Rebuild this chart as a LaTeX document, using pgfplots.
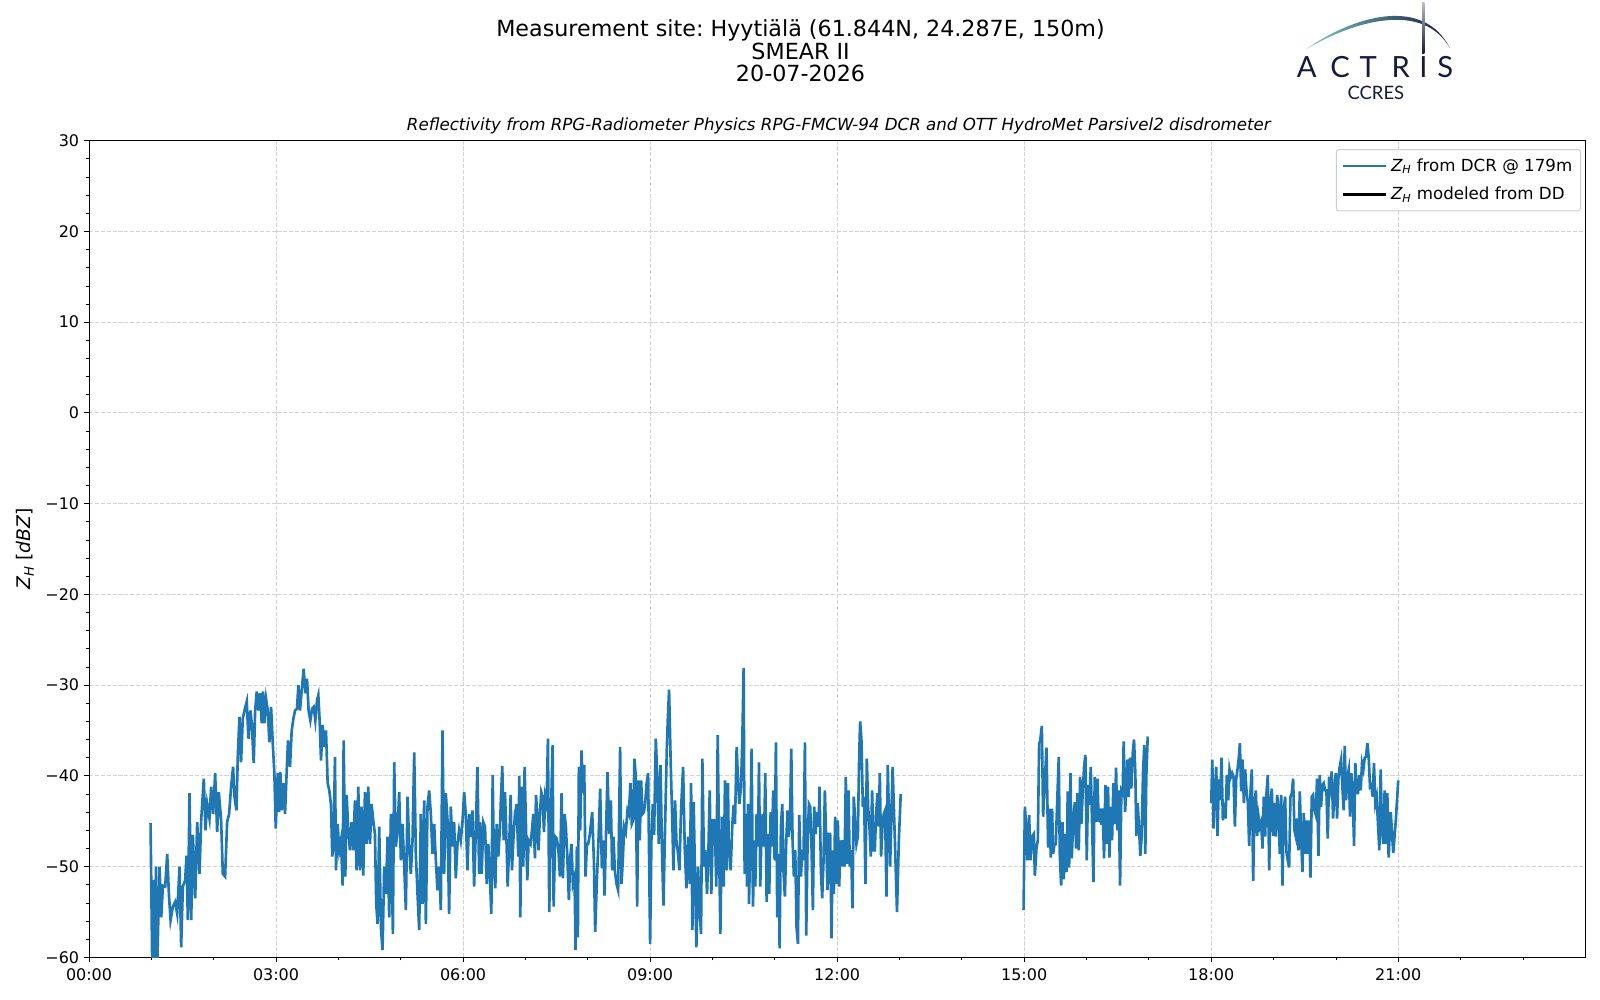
\documentclass[border=0pt]{standalone}
\usepackage{fontspec}
\setmainfont{DejaVu Sans}
\newfontfamily\logofont{Lato}
\usepackage{pgfplots}
\pgfplotsset{compat=1.18}
\definecolor{mplblue}{HTML}{1F77B4}
\definecolor{gridgray}{HTML}{D3D3D3}
\definecolor{legframe}{HTML}{CCCCCC}
\definecolor{navy}{HTML}{161A3C}
\definecolor{tealA}{HTML}{7CCACA}
\definecolor{tealB}{HTML}{2B8A98}
\newcommand{\ZH}{{\itshape Z}\textsubscript{\itshape H}}
\frenchspacing
\begin{document}
\begin{tikzpicture}
\useasboundingbox (0,0) rectangle (1152pt,720pt);
% titles
\node[anchor=base,font=\fontsize{16}{16}\selectfont] at (576.4pt,693.6pt) {Measurement site: Hyytiälä (61.844N, 24.287E, 150m)};
\node[anchor=base,font=\fontsize{16}{16}\selectfont] at (576.4pt,677.3pt) {SMEAR II};
\node[anchor=base,font=\fontsize{16}{16}\selectfont] at (576.4pt,661.2pt) {20-07-2026};
\node[anchor=base,font=\itshape\fontsize{12}{13}\selectfont] at (604pt,626.1pt) {Reflectivity from RPG-Radiometer Physics RPG-FMCW-94 DCR and OTT HydroMet Parsivel2 disdrometer};
% logo
\shade[left color=tealA, middle color=tealB, right color=navy]
  (940.3pt,684.5pt) .. controls (975pt,709pt) and (1025pt,723pt) .. (1044pt,685.2pt)
  .. controls (1025pt,719.2pt) and (975pt,705.2pt) .. (940.3pt,684.5pt) -- cycle;
\shade[top color=navy!30, bottom color=navy] (1024.0pt,681.6pt) rectangle (1025.6pt,718pt);
\foreach \lx/\lt in {940.8/A,964.8/C,985.2/T,1008.5/R,1024.8/I,1040.6/S}{
  \node[anchor=base,inner sep=0pt,text=navy,font=\logofont\fontsize{21}{21}\selectfont] at (\lx pt,664.3pt) {\lt};
}
\node[anchor=base,inner sep=0pt,text=navy,font=\logofont\fontsize{13.3}{14}\selectfont] at (990.6pt,648.4pt) {CCRES};
\begin{axis}[
  at={(64.1pt,30.7pt)}, anchor=south west,
  scale only axis, width=1077.3pt, height=588pt,
  xmin=0, xmax=24, ymin=-60, ymax=30,
  xtick={0,3,6,9,12,15,18,21},
  xticklabels={00:00,03:00,06:00,09:00,12:00,15:00,18:00,21:00},
  minor xtick={1,2,4,5,7,8,10,11,13,14,16,17,19,20,22,23},
  ytick={-60,-50,-40,-30,-20,-10,0,10,20,30},
  yticklabels={−60,−50,−40,−30,−20,−10,0,10,20,30},
  minor ytick={-58,-56,-54,-52,-48,-46,-44,-42,-38,-36,-34,-32,-28,-26,-24,-22,-18,-16,-14,-12,-8,-6,-4,-2,2,4,6,8,12,14,16,18,22,24,26,28},
  tick align=outside, xtick pos=bottom, ytick pos=left,
  major tick length=3.6pt, minor tick length=2.2pt,
  every tick/.style={black, line width=0.7pt},
  minor tick style={line width=0.55pt},
  axis line style={line width=0.75pt},
  tick label style={font=\fontsize{11.5}{13}\selectfont},
  xticklabel style={yshift=-1pt},
  xmajorgrids, ymajorgrids,
  major grid style={gridgray, line width=0.7pt, dash pattern=on 2.96pt off 1.28pt},
  ylabel={\ZH{} [{\itshape dBZ}]},
  ylabel style={at={(axis description cs:-0.0427,0.5)}, anchor=center, font=\fontsize{13.5}{15}\selectfont},
  legend style={at={(axis description cs:1,1)}, anchor=north east, xshift=-3pt, yshift=-6pt,
    draw=legframe, line width=0.7pt, rounded corners=2pt, fill=white,
    font=\fontsize{12}{13}\selectfont, inner xsep=3.5pt, inner ysep=4pt, row sep=5pt,
    nodes={inner sep=2.5pt}},
  legend cell align=left,
  legend image code/.code={\draw[#1] (0pt,0pt) -- (26.5pt,0pt); \path (-0.5pt,0pt) -- (31pt,0pt);},
]
\addplot[mplblue, line width=1.9pt, forget plot] table {
0.987 -45.2
1.014 -61.0
1.041 -51.5
1.058 -62.0
1.073 -50.0
1.094 -61.0
1.131 -50.0
1.158 -55.6
1.185 -52.1
1.222 -52.2
1.254 -48.6
1.281 -53.0
1.308 -55.9
1.345 -54.4
1.382 -53.9
1.414 -55.2
1.452 -50.0
1.478 -58.9
1.505 -52.2
1.542 -51.5
1.564 -48.8
1.585 -55.9
1.612 -41.9
1.639 -55.9
1.665 -46.5
1.703 -53.5
1.735 -45.1
1.772 -50.8
1.799 -44.9
1.841 -40.3
1.868 -46.0
1.895 -43.1
1.932 -44.7
1.959 -41.2
1.991 -44.2
2.023 -39.7
2.055 -46.2
2.082 -41.8
2.119 -44.9
2.146 -50.8
2.183 -51.1
2.215 -45.1
2.247 -44.2
2.279 -41.2
2.311 -39.0
2.333 -42.3
2.365 -43.8
2.386 -37.9
2.413 -33.5
2.439 -38.5
2.466 -33.7
2.493 -32.8
2.530 -31.8
2.557 -35.9
2.589 -32.8
2.610 -34.2
2.642 -38.6
2.664 -32.9
2.690 -30.7
2.717 -32.8
2.744 -30.9
2.770 -34.2
2.792 -30.7
2.813 -34.2
2.840 -31.5
2.867 -32.8
2.893 -36.3
2.920 -32.4
2.947 -36.4
2.973 -39.7
2.995 -45.8
3.027 -39.7
3.048 -44.0
3.069 -39.6
3.091 -43.8
3.123 -40.8
3.144 -44.2
3.171 -39.4
3.192 -36.1
3.224 -39.0
3.251 -35.0
3.278 -33.7
3.304 -32.8
3.336 -32.6
3.358 -30.0
3.384 -32.8
3.411 -30.6
3.443 -28.2
3.470 -30.9
3.497 -29.3
3.523 -32.9
3.550 -33.9
3.577 -32.6
3.603 -32.4
3.630 -33.9
3.657 -31.7
3.678 -31.1
3.699 -33.9
3.721 -38.3
3.747 -34.4
3.774 -36.8
3.801 -35.0
3.828 -40.8
3.854 -41.6
3.881 -43.2
3.902 -48.9
3.924 -46.7
3.945 -37.9
3.961 -50.4
3.988 -45.3
4.014 -48.2
4.041 -47.1
4.068 -52.1
4.084 -36.1
4.111 -51.1
4.132 -42.1
4.159 -46.0
4.185 -48.2
4.212 -45.1
4.239 -48.2
4.265 -42.7
4.292 -50.4
4.319 -41.2
4.345 -50.4
4.372 -43.4
4.399 -51.0
4.426 -41.8
4.452 -47.5
4.479 -41.2
4.506 -47.5
4.532 -43.1
4.559 -44.9
4.586 -46.4
4.607 -54.1
4.628 -56.3
4.655 -45.6
4.682 -56.7
4.708 -59.2
4.735 -50.0
4.762 -53.0
4.789 -46.7
4.815 -55.6
4.842 -44.2
4.874 -57.4
4.895 -38.5
4.922 -47.8
4.949 -46.0
4.975 -41.8
5.002 -49.3
5.029 -45.3
5.056 -50.0
5.082 -54.8
5.109 -42.3
5.136 -47.8
5.162 -50.8
5.189 -47.1
5.216 -37.4
5.242 -48.6
5.269 -53.0
5.296 -57.0
5.322 -44.2
5.349 -54.1
5.376 -42.7
5.403 -56.3
5.429 -43.4
5.456 -41.6
5.483 -44.2
5.509 -48.6
5.536 -45.3
5.563 -49.3
5.589 -52.6
5.616 -50.0
5.643 -54.8
5.670 -35.0
5.696 -50.8
5.723 -41.9
5.750 -44.9
5.776 -55.2
5.803 -43.4
5.830 -47.8
5.856 -45.1
5.883 -51.3
5.910 -47.5
5.936 -46.0
5.963 -47.1
5.990 -45.1
6.017 -41.8
6.043 -44.2
6.070 -50.4
6.097 -44.2
6.123 -46.7
6.150 -43.8
6.177 -52.2
6.203 -46.4
6.230 -39.0
6.257 -50.8
6.272 -45.1
6.298 -50.8
6.325 -45.1
6.352 -45.6
6.379 -51.9
6.405 -47.5
6.432 -51.5
6.453 -55.2
6.475 -39.9
6.496 -50.4
6.517 -52.4
6.539 -45.3
6.565 -48.9
6.592 -45.6
6.608 -42.3
6.629 -38.9
6.651 -47.1
6.672 -41.8
6.699 -47.8
6.715 -52.2
6.742 -47.1
6.763 -42.1
6.784 -50.4
6.806 -47.1
6.832 -44.2
6.859 -43.1
6.886 -48.9
6.902 -40.0
6.918 -55.6
6.939 -41.2
6.966 -50.0
6.987 -39.0
7.009 -45.6
7.030 -51.5
7.051 -47.1
7.083 -47.5
7.105 -46.0
7.126 -44.2
7.153 -49.1
7.169 -42.1
7.190 -44.2
7.211 -48.2
7.233 -44.2
7.254 -41.8
7.275 -42.3
7.297 -46.2
7.318 -42.3
7.340 -43.1
7.361 -35.9
7.382 -55.0
7.409 -44.2
7.436 -36.6
7.452 -54.4
7.478 -46.7
7.500 -46.9
7.526 -47.8
7.553 -51.1
7.580 -41.9
7.601 -51.3
7.628 -44.2
7.649 -45.6
7.671 -48.8
7.697 -53.7
7.719 -48.9
7.740 -47.5
7.761 -51.9
7.788 -51.1
7.804 -59.2
7.825 -47.8
7.841 -57.8
7.857 -39.0
7.879 -46.0
7.900 -37.2
7.922 -41.9
7.943 -38.8
7.964 -51.1
7.986 -47.5
8.007 -47.5
8.034 -46.4
8.071 -44.0
8.098 -49.3
8.119 -57.2
8.146 -51.5
8.172 -47.1
8.199 -41.4
8.226 -50.2
8.247 -47.1
8.269 -53.2
8.295 -45.6
8.317 -39.6
8.343 -46.4
8.370 -42.7
8.391 -50.4
8.413 -46.7
8.434 -50.4
8.461 -51.9
8.487 -52.6
8.519 -36.8
8.541 -51.9
8.562 -49.3
8.584 -45.6
8.610 -46.2
8.637 -43.8
8.658 -44.2
8.685 -40.8
8.706 -45.3
8.728 -44.9
8.749 -38.1
8.770 -40.1
8.792 -54.4
8.813 -40.5
8.834 -47.1
8.856 -40.5
8.877 -44.2
8.899 -44.0
8.920 -43.1
8.941 -41.0
8.968 -39.7
9.000 -58.5
9.021 -47.1
9.043 -43.1
9.064 -46.5
9.091 -35.9
9.112 -39.7
9.139 -47.5
9.166 -38.8
9.192 -48.6
9.214 -54.3
9.240 -45.6
9.267 -37.2
9.283 -33.9
9.304 -30.5
9.331 -38.8
9.358 -45.6
9.374 -50.4
9.400 -42.7
9.422 -47.1
9.448 -48.6
9.470 -50.4
9.497 -43.6
9.529 -39.0
9.555 -47.8
9.582 -52.4
9.609 -46.7
9.635 -51.9
9.657 -40.8
9.678 -57.0
9.699 -42.9
9.721 -51.5
9.742 -58.9
9.769 -50.0
9.796 -55.2
9.817 -57.4
9.838 -38.1
9.865 -50.0
9.886 -48.2
9.913 -53.0
9.934 -48.6
9.956 -41.6
9.982 -53.0
10.009 -44.9
10.036 -44.9
10.062 -52.2
10.084 -35.5
10.105 -47.1
10.127 -57.4
10.153 -44.5
10.180 -52.2
10.201 -40.5
10.228 -50.4
10.249 -40.8
10.260 -47.1
10.292 -50.4
10.319 -45.3
10.340 -43.2
10.361 -45.3
10.388 -36.8
10.410 -40.5
10.431 -43.1
10.458 -41.2
10.479 -36.1
10.500 -28.1
10.516 -50.8
10.538 -44.2
10.554 -52.2
10.570 -43.1
10.586 -54.1
10.607 -47.1
10.628 -37.0
10.650 -54.4
10.671 -47.1
10.687 -52.2
10.708 -44.2
10.730 -47.8
10.746 -38.5
10.767 -52.2
10.783 -47.1
10.805 -44.2
10.826 -47.8
10.847 -39.7
10.869 -53.9
10.890 -46.4
10.911 -53.0
10.933 -44.0
10.954 -47.8
10.975 -41.6
10.997 -49.3
11.018 -36.3
11.039 -55.6
11.061 -48.6
11.077 -59.0
11.098 -45.6
11.120 -43.1
11.141 -50.8
11.162 -53.3
11.184 -47.1
11.205 -43.8
11.221 -46.7
11.242 -45.6
11.264 -37.0
11.285 -47.1
11.306 -51.1
11.328 -48.2
11.349 -56.7
11.371 -58.5
11.392 -44.3
11.419 -51.1
11.440 -48.2
11.461 -49.3
11.483 -36.3
11.504 -57.6
11.525 -47.8
11.547 -43.1
11.568 -43.4
11.589 -47.8
11.611 -54.8
11.632 -43.4
11.654 -46.4
11.675 -44.0
11.702 -45.6
11.718 -41.2
11.739 -50.4
11.760 -53.5
11.782 -49.3
11.803 -41.6
11.824 -47.1
11.846 -52.6
11.867 -46.4
11.888 -46.4
11.910 -57.9
11.926 -48.2
11.947 -53.0
11.968 -44.5
11.990 -51.9
12.011 -44.9
12.033 -52.2
12.054 -47.1
12.075 -50.0
12.097 -47.1
12.118 -50.0
12.139 -40.1
12.161 -49.7
12.182 -41.6
12.203 -50.0
12.225 -48.2
12.246 -54.6
12.267 -42.3
12.289 -44.9
12.310 -47.5
12.332 -46.7
12.353 -37.9
12.369 -34.0
12.390 -36.1
12.412 -43.4
12.433 -42.3
12.454 -51.9
12.476 -38.1
12.497 -43.4
12.518 -45.6
12.540 -48.9
12.561 -41.6
12.583 -48.2
12.604 -48.2
12.625 -44.2
12.647 -41.9
12.668 -45.6
12.684 -39.7
12.705 -48.9
12.727 -45.6
12.748 -44.2
12.769 -43.8
12.791 -53.3
12.812 -38.8
12.850 -50.0
12.890 -39.0
12.930 -48.0
12.960 -55.0
12.990 -47.0
13.020 -42.0
};
\addplot[mplblue, line width=1.9pt, forget plot] table {
14.990 -54.8
15.011 -43.4
15.037 -46.0
15.053 -49.3
15.080 -44.3
15.101 -49.3
15.128 -46.7
15.155 -46.4
15.171 -51.0
15.198 -47.9
15.219 -47.1
15.240 -36.4
15.256 -36.2
15.283 -34.5
15.304 -44.5
15.326 -41.2
15.358 -36.9
15.384 -47.9
15.406 -43.6
15.427 -49.0
15.448 -43.6
15.464 -48.6
15.486 -47.5
15.507 -47.5
15.529 -43.0
15.555 -37.9
15.571 -48.6
15.593 -52.1
15.614 -45.1
15.635 -51.4
15.657 -46.4
15.678 -50.6
15.699 -41.7
15.721 -50.1
15.742 -39.7
15.763 -49.1
15.785 -45.3
15.812 -42.9
15.833 -48.0
15.854 -41.9
15.876 -48.2
15.897 -40.1
15.918 -45.3
15.940 -41.6
15.961 -39.0
15.982 -37.7
16.004 -49.3
16.025 -41.0
16.046 -43.2
16.068 -39.0
16.089 -45.3
16.111 -51.7
16.132 -40.1
16.153 -45.1
16.175 -40.3
16.196 -45.1
16.217 -43.6
16.239 -45.4
16.260 -43.6
16.281 -49.1
16.303 -41.0
16.324 -47.5
16.345 -41.2
16.367 -49.0
16.388 -43.4
16.410 -47.1
16.431 -40.8
16.452 -45.3
16.474 -39.1
16.495 -46.0
16.516 -41.6
16.538 -52.1
16.559 -41.6
16.580 -41.9
16.596 -36.2
16.618 -44.0
16.639 -41.6
16.655 -38.2
16.676 -42.3
16.698 -38.0
16.719 -41.4
16.741 -37.5
16.762 -36.0
16.783 -39.7
16.799 -46.6
16.821 -43.0
16.842 -45.6
16.863 -48.8
16.885 -46.7
16.906 -39.7
16.927 -36.6
16.943 -48.6
16.959 -40.1
16.981 -35.8
16.997 -35.8
};
\addplot[mplblue, line width=1.9pt, forget plot] table {
18.001 -43.0
18.017 -38.2
18.038 -45.8
18.059 -41.6
18.081 -39.0
18.102 -46.6
18.123 -40.4
18.145 -42.7
18.166 -38.0
18.187 -44.9
18.209 -43.0
18.230 -44.7
18.251 -39.9
18.273 -42.7
18.294 -39.3
18.316 -40.1
18.337 -39.7
18.358 -40.1
18.380 -45.6
18.401 -40.3
18.422 -39.3
18.444 -37.9
18.460 -36.4
18.481 -41.7
18.502 -38.2
18.524 -43.0
18.545 -39.3
18.566 -41.6
18.588 -43.0
18.609 -47.7
18.631 -41.6
18.652 -39.3
18.673 -51.6
18.695 -43.0
18.716 -41.6
18.737 -46.6
18.759 -44.5
18.780 -45.6
18.801 -45.1
18.823 -48.0
18.844 -42.3
18.865 -46.7
18.887 -41.9
18.908 -39.9
18.930 -50.4
18.951 -43.0
18.972 -41.4
18.994 -46.6
19.015 -43.0
19.036 -46.7
19.058 -42.1
19.079 -43.8
19.100 -48.6
19.122 -42.1
19.143 -52.1
19.164 -43.8
19.186 -42.3
19.207 -48.4
19.229 -49.3
19.250 -50.1
19.271 -42.3
19.293 -41.9
19.314 -40.3
19.335 -46.0
19.357 -46.7
19.378 -44.7
19.399 -48.2
19.421 -41.7
19.442 -46.7
19.463 -50.6
19.485 -44.1
19.506 -48.6
19.528 -44.9
19.549 -48.6
19.570 -44.9
19.592 -51.2
19.613 -42.3
19.634 -42.1
19.656 -43.8
19.677 -44.3
19.698 -40.3
19.720 -48.8
19.741 -39.9
19.762 -43.4
19.784 -41.0
19.805 -40.8
19.826 -41.6
19.848 -41.6
19.869 -46.9
19.891 -40.1
19.912 -41.2
19.933 -39.5
19.955 -44.7
19.976 -41.7
19.997 -39.7
20.019 -44.7
20.040 -40.3
20.061 -39.0
20.083 -38.2
20.104 -41.2
20.125 -43.8
20.141 -36.7
20.163 -42.7
20.184 -40.1
20.206 -39.3
20.227 -44.5
20.248 -39.7
20.270 -41.9
20.291 -47.7
20.312 -38.6
20.334 -41.9
20.355 -41.9
20.376 -39.9
20.398 -41.6
20.419 -38.6
20.441 -39.3
20.462 -38.0
20.483 -37.9
20.505 -36.4
20.526 -37.9
20.547 -41.2
20.569 -41.0
20.590 -42.3
20.611 -38.6
20.633 -43.0
20.654 -42.3
20.675 -45.3
20.697 -48.2
20.718 -39.3
20.740 -46.0
20.761 -47.5
20.782 -41.6
20.804 -47.5
20.825 -41.9
20.846 -49.0
20.880 -44.0
20.920 -48.5
20.960 -45.0
21.000 -40.5
};
\addlegendimage{mplblue, line width=1.9pt}
\addlegendentry{\ZH{} from DCR @ 179m}
\addlegendimage{black, line width=1.9pt}
\addlegendentry{\ZH{} modeled from DD}
\end{axis}
\end{tikzpicture}
\end{document}
